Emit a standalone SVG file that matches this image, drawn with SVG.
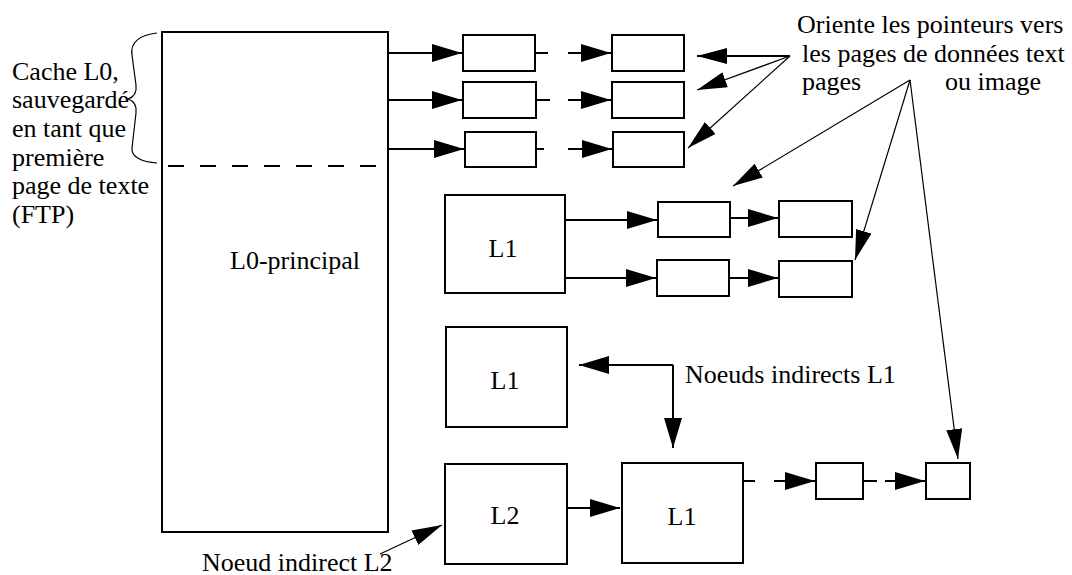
<svg xmlns="http://www.w3.org/2000/svg" width="1072" height="575" viewBox="0 0 1072 575">
<style>
.box{fill:#fff;stroke:#000;stroke-width:2}
.t{font-family:"Liberation Serif","Times New Roman",serif;font-size:26px;fill:#000}
.c{fill:none;stroke:#000;stroke-width:2}
.thin{fill:none;stroke:#000;stroke-width:1.2}
</style>
<defs>
<marker id="ah" markerUnits="userSpaceOnUse" markerWidth="30" markerHeight="18" refX="30" refY="9" orient="auto" viewBox="0 0 30 18"><path d="M0,0 L30,9 L0,18 z" fill="#000"/></marker>
<marker id="ah2" markerUnits="userSpaceOnUse" markerWidth="30" markerHeight="16" refX="30" refY="8" orient="auto" viewBox="0 0 30 16"><path d="M0,0 L30,8 L0,16 z" fill="#000"/></marker>
</defs>
<rect width="1072" height="575" fill="#fff"/>

<g id="label-cache">
<path class="thin" d="M157,33 C140,35 130,42 132,55 L136,85 C137,93 134,97 128,99 C134,101 137,105 136,113 L132,148 C131,157 142,162 157,163"/>
<text class="t" x="12" y="80">Cache L0,</text>
<text class="t" x="12" y="108">sauvegardé</text>
<text class="t" x="12" y="137">en tant que</text>
<text class="t" x="12" y="166">première</text>
<text class="t" x="12" y="194">page de texte</text>
<text class="t" x="12" y="223">(FTP)</text>
</g>

<g id="L0">
<rect class="box" x="162" y="32" width="226" height="500"/>
<line class="c" x1="162" y1="166" x2="388" y2="166" stroke-dasharray="16 16" stroke-dashoffset="-6"/>
<text class="t" x="230" y="269">L0-principal</text>
</g>

<g id="p1a"><rect class="box" x="463" y="35" width="72" height="36"/></g>
<g id="p1b"><rect class="box" x="612" y="35" width="72" height="36"/></g>
<g id="p2a"><rect class="box" x="463" y="82" width="73" height="36"/></g>
<g id="p2b"><rect class="box" x="612" y="82" width="72" height="36"/></g>
<g id="p3a"><rect class="box" x="465" y="132" width="71" height="35"/></g>
<g id="p3b"><rect class="box" x="613" y="132" width="71" height="35"/></g>

<g id="L1a">
<rect class="box" x="445" y="195" width="120" height="98"/>
<text class="t" x="503" y="257" text-anchor="middle">L1</text>
</g>
<g id="qa1"><rect class="box" x="658" y="202" width="72" height="35"/></g>
<g id="qa2"><rect class="box" x="779" y="201" width="73" height="36"/></g>
<g id="qb1"><rect class="box" x="657" y="260" width="72" height="36"/></g>
<g id="qb2"><rect class="box" x="779" y="261" width="73" height="36"/></g>

<g id="L1b">
<rect class="box" x="446" y="327" width="121" height="100"/>
<text class="t" x="505" y="389" text-anchor="middle">L1</text>
</g>
<g id="L2">
<rect class="box" x="445" y="464" width="122" height="100"/>
<text class="t" x="505" y="524" text-anchor="middle">L2</text>
</g>
<g id="L1c">
<rect class="box" x="622" y="463" width="121" height="100"/>
<text class="t" x="682" y="525" text-anchor="middle">L1</text>
</g>
<g id="r1"><rect class="box" x="816" y="463" width="47" height="36"/></g>
<g id="r2"><rect class="box" x="926" y="463" width="44" height="36"/></g>

<g id="label-pointers">
<text class="t" x="797" y="33">Oriente les pointeurs vers</text>
<text class="t" x="802" y="62">les pages de données text</text>
<text class="t" x="802" y="90">pages</text>
<text class="t" x="945" y="90">ou image</text>
</g>
<g id="label-n1"><text class="t" x="685" y="383">Noeuds indirects L1</text></g>
<g id="label-n2"><text class="t" x="202" y="571">Noeud indirect L2</text></g>

<g id="connectors">
<line class="c" x1="388" y1="53" x2="462" y2="53" marker-end="url(#ah)"/>
<line class="c" x1="388" y1="100" x2="462" y2="100" marker-end="url(#ah)"/>
<line class="c" x1="388" y1="149" x2="464" y2="149" marker-end="url(#ah)"/>
<line class="c" x1="535" y1="53" x2="548" y2="53"/>
<line class="c" x1="568" y1="53" x2="611" y2="53" marker-end="url(#ah)"/>
<line class="c" x1="536" y1="100" x2="550" y2="100"/>
<line class="c" x1="568" y1="100" x2="611" y2="100" marker-end="url(#ah)"/>
<line class="c" x1="536" y1="149" x2="544" y2="149"/>
<line class="c" x1="568" y1="149" x2="612" y2="149" marker-end="url(#ah)"/>

<line class="c" x1="565" y1="220" x2="657" y2="220" marker-end="url(#ah)"/>
<line class="c" x1="730" y1="218" x2="778" y2="218" marker-end="url(#ah)"/>
<line class="c" x1="565" y1="278" x2="656" y2="278" marker-end="url(#ah)"/>
<line class="c" x1="729" y1="278" x2="778" y2="278" marker-end="url(#ah)"/>

<line class="c" x1="567" y1="508" x2="620" y2="508" marker-end="url(#ah)"/>
<line class="c" x1="743" y1="481" x2="755" y2="481"/>
<line class="c" x1="774" y1="481" x2="815" y2="481" marker-end="url(#ah)"/>
<line class="c" x1="863" y1="481" x2="877" y2="481"/>
<line class="c" x1="885" y1="481" x2="925" y2="481" marker-end="url(#ah)"/>

<path class="c" d="M673,365 L579,365" marker-end="url(#ah)"/>
<path class="c" d="M673,365 L673,448" marker-end="url(#ah)"/>

<line class="thin" x1="380" y1="554" x2="442" y2="525" marker-end="url(#ah2)"/>

<line class="c" x1="790" y1="56" x2="697" y2="56" marker-end="url(#ah2)"/>
<line class="thin" x1="790" y1="56" x2="697" y2="90" marker-end="url(#ah2)"/>
<line class="thin" x1="790" y1="56" x2="688" y2="148" marker-end="url(#ah2)"/>
<line class="thin" x1="910" y1="80" x2="733" y2="186" marker-end="url(#ah2)"/>
<line class="thin" x1="910" y1="80" x2="855" y2="260" marker-end="url(#ah2)"/>
<line class="thin" x1="910" y1="80" x2="958" y2="459" marker-end="url(#ah2)"/>
</g>
</svg>
